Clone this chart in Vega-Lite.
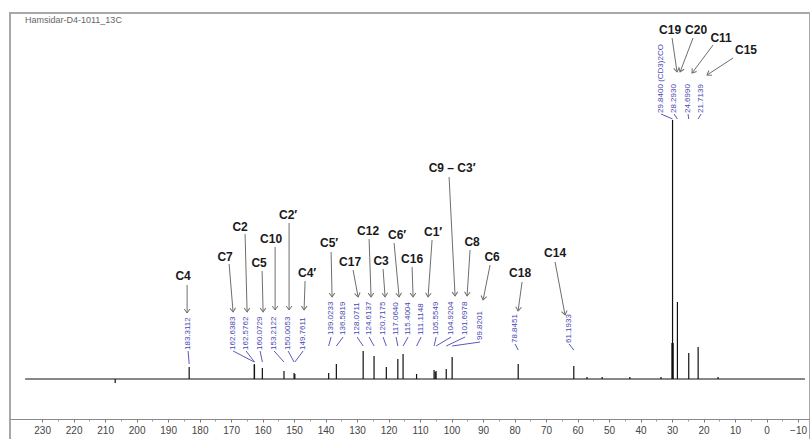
{
  "$schema": "https://vega.github.io/schema/vega-lite/v6.json",
  "width": 800,
  "height": 427,
  "autosize": "none",
  "padding": {"left": 10, "top": 13, "right": 0, "bottom": 0},
  "background": "white",
  "title": {"text": "Hamsidar-D4-1011_13C", "anchor": "start", "orient": "top", "offset": -16, "dx": 15, "fontSize": 9, "fontWeight": "normal", "font": "Liberation Sans", "color": "#666666", "baseline": "middle"},
  "resolve": {"axis": {"x": "independent"}},
  "config": {
    "view": {"stroke": "#a8a8a8", "strokeWidth": 2},
    "axis": {"grid": false}
  },
  "datasets": {
    "baseline": [{"from": 235.4, "to": -12.2, "level": 0}],
    "peaks": [
      {"ppm": 206.8, "h": -4},
      {"ppm": 183.3112, "h": 12},
      {"ppm": 162.6383, "h": 15},
      {"ppm": 162.5762, "h": 14},
      {"ppm": 160.0729, "h": 11},
      {"ppm": 153.2122, "h": 8},
      {"ppm": 150.0053, "h": 6},
      {"ppm": 149.7611, "h": 5},
      {"ppm": 139.0233, "h": 6},
      {"ppm": 136.5819, "h": 15},
      {"ppm": 128.0711, "h": 28},
      {"ppm": 124.6137, "h": 23},
      {"ppm": 120.7175, "h": 12},
      {"ppm": 117.064, "h": 20},
      {"ppm": 115.4004, "h": 25},
      {"ppm": 111.1148, "h": 5},
      {"ppm": 105.5549, "h": 9},
      {"ppm": 105.2, "h": 7},
      {"ppm": 104.9204, "h": 8},
      {"ppm": 101.6978, "h": 10},
      {"ppm": 99.8201, "h": 22},
      {"ppm": 78.8451, "h": 15},
      {"ppm": 61.1933, "h": 13},
      {"ppm": 57.0, "h": 2},
      {"ppm": 52.2, "h": 2},
      {"ppm": 43.4, "h": 2},
      {"ppm": 33.5, "h": 2},
      {"ppm": 30.03, "h": 36},
      {"ppm": 29.84, "h": 259},
      {"ppm": 29.65, "h": 36},
      {"ppm": 28.293, "h": 77},
      {"ppm": 24.699, "h": 26},
      {"ppm": 21.7139, "h": 32},
      {"ppm": 15.4, "h": 2}
    ],
    "shifts": [
      {"text": "183.3112", "lx": 183.65, "ly": 29, "sy": 28, "pk": 183.3112, "cy": 15},
      {"text": "162.6383", "lx": 169.37, "ly": 29, "sy": 28, "pk": 162.6383, "cy": 17},
      {"text": "162.5762", "lx": 165.24, "ly": 29, "sy": 28, "pk": 162.5762, "cy": 17},
      {"text": "160.0729", "lx": 160.79, "ly": 29, "sy": 28, "pk": 160.0729, "cy": 17},
      {"text": "153.2122", "lx": 156.35, "ly": 29, "sy": 28, "pk": 153.2122, "cy": 17},
      {"text": "150.0053", "lx": 151.9, "ly": 29, "sy": 28, "pk": 150.0053, "cy": 17},
      {"text": "149.7611", "lx": 147.14, "ly": 29, "sy": 28, "pk": 149.7611, "cy": 17},
      {"text": "139.0233", "lx": 138.25, "ly": 44, "sy": 42, "pk": 139.0233, "cy": 33},
      {"text": "136.5819", "lx": 134.44, "ly": 44, "sy": 42, "pk": 136.5819, "cy": 33},
      {"text": "128.0711", "lx": 130.0, "ly": 44, "sy": 42, "pk": 128.0711, "cy": 33},
      {"text": "124.6137", "lx": 126.19, "ly": 44, "sy": 42, "pk": 124.6137, "cy": 33},
      {"text": "120.7175", "lx": 121.75, "ly": 44, "sy": 42, "pk": 120.7175, "cy": 33},
      {"text": "117.0640", "lx": 117.62, "ly": 44, "sy": 42, "pk": 117.064, "cy": 33},
      {"text": "115.4004", "lx": 113.81, "ly": 44, "sy": 42, "pk": 115.4004, "cy": 33},
      {"text": "111.1148", "lx": 109.68, "ly": 44, "sy": 42, "pk": 111.1148, "cy": 33},
      {"text": "105.5549", "lx": 104.92, "ly": 44, "sy": 42, "pk": 105.5549, "cy": 33},
      {"text": "104.9204", "lx": 100.16, "ly": 44, "sy": 42, "pk": 104.9204, "cy": 33},
      {"text": "101.6978", "lx": 95.71, "ly": 44, "sy": 42, "pk": 101.6978, "cy": 33},
      {"text": "99.8201", "lx": 90.95, "ly": 39, "sy": 37, "pk": 99.8201, "cy": 33},
      {"text": "78.8451", "lx": 79.84, "ly": 36, "sy": 35, "pk": 78.8451, "cy": 29},
      {"text": "61.1933", "lx": 62.7, "ly": 36, "sy": 35, "pk": 61.1933, "cy": 29},
      {"text": "29.8400 (CD3)2CO", "lx": 33.49, "ly": 266, "sy": 265, "pk": 29.84, "cy": 260},
      {"text": "28.2930", "lx": 29.37, "ly": 266, "sy": 265, "pk": 28.293, "cy": 260},
      {"text": "24.6990", "lx": 24.92, "ly": 266, "sy": 265, "pk": 24.699, "cy": 260},
      {"text": "21.7139", "lx": 20.79, "ly": 266, "sy": 265, "pk": 21.7139, "cy": 260}
    ],
    "assign": [
      {"name": "C4", "tx": 185.24, "ty": 103, "ax1": 183.97, "ay1": 94, "ax2": 183.97, "ay2": 66},
      {"name": "C7", "tx": 171.9, "ty": 122, "ax1": 170.63, "ay1": 115, "ax2": 169.37, "ay2": 67},
      {"name": "C2", "tx": 167.14, "ty": 152, "ax1": 165.56, "ay1": 145, "ax2": 164.92, "ay2": 67},
      {"name": "C5", "tx": 161.11, "ty": 116, "ax1": 160.16, "ay1": 108, "ax2": 159.84, "ay2": 67},
      {"name": "C10", "tx": 157.3, "ty": 140, "ax1": 156.03, "ay1": 132, "ax2": 156.03, "ay2": 69},
      {"name": "C2′", "tx": 151.9, "ty": 164, "ax1": 151.59, "ay1": 156, "ax2": 151.59, "ay2": 69},
      {"name": "C4′", "tx": 145.87, "ty": 106, "ax1": 146.51, "ay1": 98, "ax2": 146.83, "ay2": 69},
      {"name": "C5′", "tx": 138.89, "ty": 136, "ax1": 138.25, "ay1": 127, "ax2": 137.94, "ay2": 82},
      {"name": "C17", "tx": 132.22, "ty": 117, "ax1": 131.27, "ay1": 109, "ax2": 129.68, "ay2": 82},
      {"name": "C12", "tx": 126.51, "ty": 148, "ax1": 126.19, "ay1": 140, "ax2": 125.56, "ay2": 82},
      {"name": "C3", "tx": 122.38, "ty": 118, "ax1": 121.75, "ay1": 110, "ax2": 121.11, "ay2": 82},
      {"name": "C6′", "tx": 117.3, "ty": 144, "ax1": 118.25, "ay1": 136, "ax2": 116.67, "ay2": 82},
      {"name": "C16", "tx": 112.54, "ty": 120, "ax1": 112.54, "ay1": 112, "ax2": 112.22, "ay2": 82},
      {"name": "C1′", "tx": 105.87, "ty": 147, "ax1": 106.19, "ay1": 139, "ax2": 107.46, "ay2": 82},
      {"name": "C9 – C3′", "tx": 99.84, "ty": 211, "ax1": 100.79, "ay1": 202, "ax2": 98.89, "ay2": 83},
      {"name": "C8", "tx": 93.49, "ty": 137, "ax1": 94.13, "ay1": 129, "ax2": 95.08, "ay2": 83},
      {"name": "C6", "tx": 87.14, "ty": 122, "ax1": 87.78, "ay1": 114, "ax2": 90.0, "ay2": 79},
      {"name": "C18", "tx": 78.25, "ty": 106, "ax1": 77.62, "ay1": 97, "ax2": 78.89, "ay2": 68},
      {"name": "C14", "tx": 67.14, "ty": 126, "ax1": 67.14, "ay1": 117, "ax2": 63.97, "ay2": 64},
      {"name": "C19", "tx": 30.63, "ty": 349, "ax1": 30.0, "ay1": 341, "ax2": 28.41, "ay2": 307},
      {"name": "C20", "tx": 22.38, "ty": 349, "ax1": 23.33, "ay1": 341, "ax2": 27.46, "ay2": 307},
      {"name": "C11", "tx": 14.44, "ty": 341, "ax1": 16.98, "ay1": 334, "ax2": 23.65, "ay2": 306},
      {"name": "C15", "tx": 6.51, "ty": 329, "ax1": 10.63, "ay1": 321, "ax2": 18.89, "ay2": 304}
    ]
  },
  "layer": [
    {
      "data": {"name": "baseline"},
      "mark": {"type": "rule", "color": "#111111", "strokeWidth": 1},
      "encoding": {
        "x": {"field": "from", "type": "quantitative", "title": null,
              "scale": {"domain": [-13.8, 240.2], "reverse": true, "nice": false, "zero": false},
              "axis": {"orient": "bottom", "offset": -21, "title": null,
                       "values": [-10,0,10,20,30,40,50,60,70,80,90,100,110,120,130,140,150,160,170,180,190,200,210,220,230],
                       "domainColor": "#8a8a8a", "domainWidth": 1.2, "tickColor": "#777777", "tickSize": 3, "tickWidth": 1,
                       "labelFont": "Liberation Sans", "labelFontSize": 10, "labelColor": "#444444", "labelPadding": 3, "labelFlush": false, "labelOverlap": false}},
        "x2": {"field": "to"},
        "y": {"field": "level", "type": "quantitative", "axis": null,
              "scale": {"domain": [-61, 366], "nice": false, "zero": false}}
      }
    },
    {
      "data": {"name": "peaks"},
      "mark": {"type": "rule", "color": "#111111", "strokeWidth": 1.2},
      "encoding": {
        "x": {"field": "ppm", "type": "quantitative", "title": null,
              "scale": {"domain": [-13.8, 240.2], "reverse": true, "nice": false, "zero": false},
              "axis": {"orient": "bottom", "offset": -21, "title": null, "labels": false, "domain": false,
                       "values": [-5,5,15,25,35,45,55,65,75,85,95,105,115,125,135,145,155,165,175,185,195,205,215,225],
                       "tickColor": "#999999", "tickSize": 2, "tickWidth": 1}},
        "y": {"field": "h", "type": "quantitative", "axis": null,
              "scale": {"domain": [-61, 366], "nice": false, "zero": false}},
        "y2": {"datum": 0}
      }
    },
    {
      "data": {"name": "shifts"},
      "mark": {"type": "rule", "color": "#4646b4", "strokeWidth": 0.9},
      "encoding": {
        "x": {"field": "lx", "type": "quantitative", "axis": null,
              "scale": {"domain": [-13.8, 240.2], "reverse": true, "nice": false, "zero": false}},
        "x2": {"field": "pk"},
        "y": {"field": "sy", "type": "quantitative", "axis": null,
              "scale": {"domain": [-61, 366], "nice": false, "zero": false}},
        "y2": {"field": "cy"}
      }
    },
    {
      "data": {"name": "shifts"},
      "mark": {"type": "text", "angle": -90, "align": "left", "baseline": "middle", "font": "Liberation Sans", "fontSize": 8, "color": "#4646b4"},
      "encoding": {
        "x": {"field": "lx", "type": "quantitative", "axis": null,
              "scale": {"domain": [-13.8, 240.2], "reverse": true, "nice": false, "zero": false}},
        "y": {"field": "ly", "type": "quantitative", "axis": null,
              "scale": {"domain": [-61, 366], "nice": false, "zero": false}},
        "text": {"field": "text"}
      }
    },
    {
      "data": {"name": "assign"},
      "mark": {"type": "rule", "color": "#6e6e6e", "strokeWidth": 1},
      "encoding": {
        "x": {"field": "ax1", "type": "quantitative", "axis": null,
              "scale": {"domain": [-13.8, 240.2], "reverse": true, "nice": false, "zero": false}},
        "x2": {"field": "ax2"},
        "y": {"field": "ay1", "type": "quantitative", "axis": null,
              "scale": {"domain": [-61, 366], "nice": false, "zero": false}},
        "y2": {"field": "ay2"}
      }
    },
    {
      "data": {"name": "assign"},
      "transform": [{"calculate": "atan2(-(datum.ax1 - datum.ax2) * 3.15, datum.ay1 - datum.ay2) * 180 / PI", "as": "ang"}],
      "mark": {"type": "point", "shape": "M-0.7,-1L0,0L0.7,-1", "filled": false, "stroke": "#6e6e6e", "strokeWidth": 1, "size": 64, "opacity": 1},
      "encoding": {
        "x": {"field": "ax2", "type": "quantitative", "axis": null,
              "scale": {"domain": [-13.8, 240.2], "reverse": true, "nice": false, "zero": false}},
        "y": {"field": "ay2", "type": "quantitative", "axis": null,
              "scale": {"domain": [-61, 366], "nice": false, "zero": false}},
        "angle": {"field": "ang", "type": "quantitative", "scale": null}
      }
    },
    {
      "data": {"name": "assign"},
      "mark": {"type": "text", "align": "center", "baseline": "middle", "font": "Liberation Sans", "fontSize": 12, "fontWeight": "bold", "color": "#1a1a1a"},
      "encoding": {
        "x": {"field": "tx", "type": "quantitative", "axis": null,
              "scale": {"domain": [-13.8, 240.2], "reverse": true, "nice": false, "zero": false}},
        "y": {"field": "ty", "type": "quantitative", "axis": null,
              "scale": {"domain": [-61, 366], "nice": false, "zero": false}},
        "text": {"field": "name"}
      }
    }
  ]
}
